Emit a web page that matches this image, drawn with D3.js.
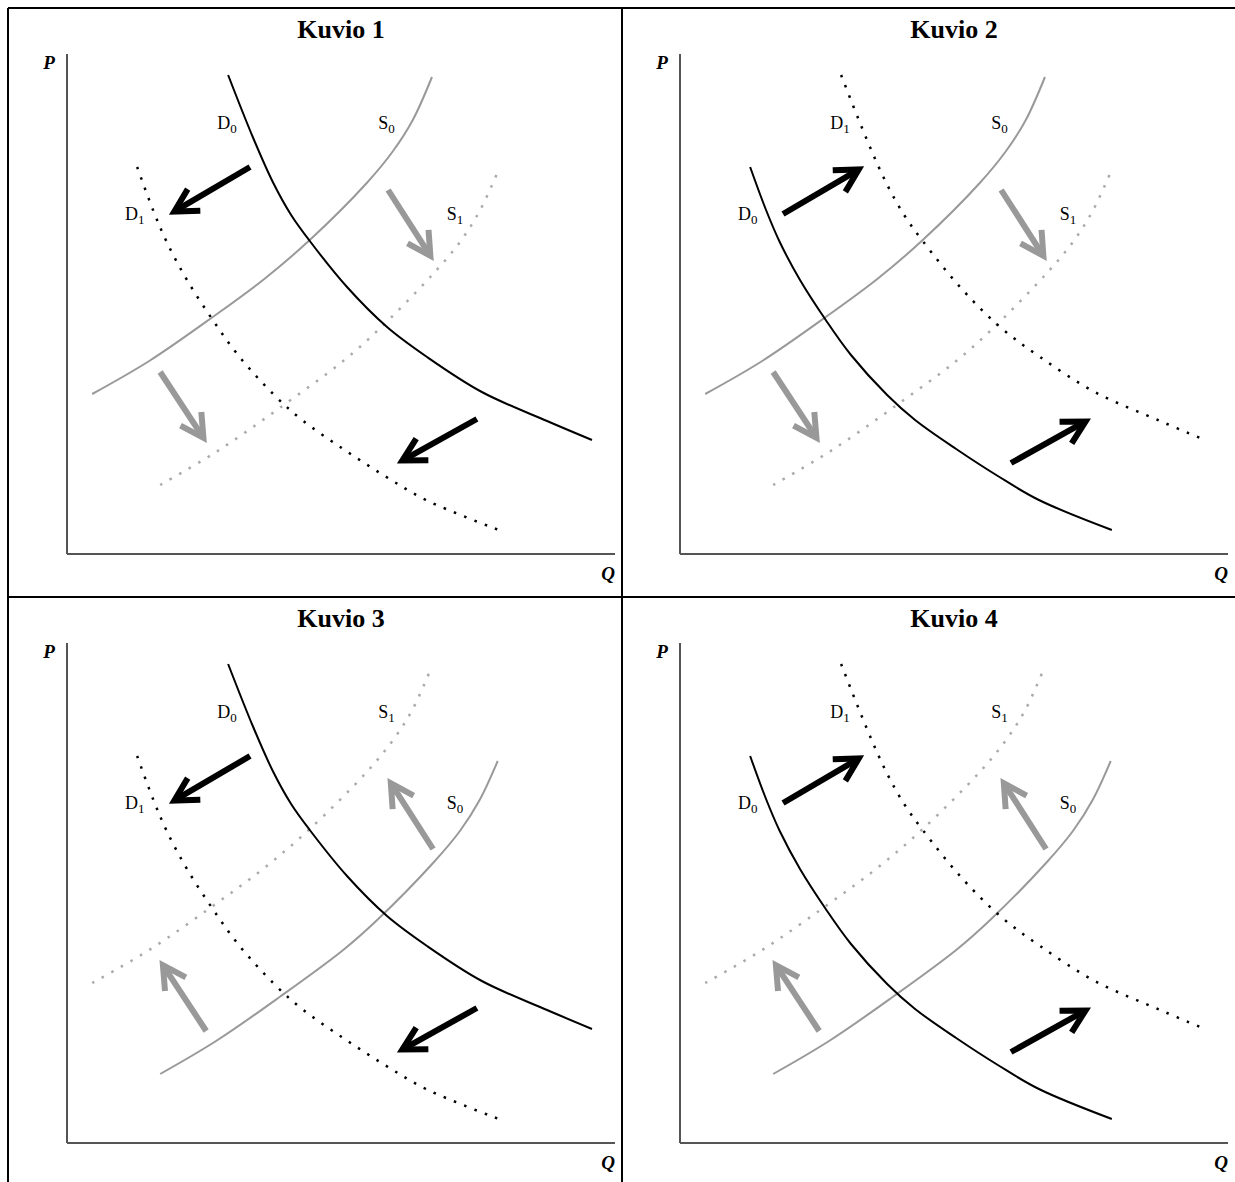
<!DOCTYPE html>
<html>
<head>
<meta charset="utf-8">
<script src="https://d3js.org/d3.v7.min.js"></script>
<style>
body { margin: 0; background: #fff; }
text { font-family: "Liberation Serif", "Times New Roman", serif; }
</style>
</head>
<body>
<script>
//curve points, as [Q, P] on a 0-100 scale
var demandHigh = [[29.4,95.8],[33.9,83.4],[37.6,74.3],[40.9,67.8],[44.3,62.6],[51.1,53.4],[58.4,45.4],[65.7,39.4],[75.7,32.4],[87.6,26.6],[95.8,22.8]];
var demandLow = [[12.8,77.4],[15.7,68.8],[18.2,62.4],[21.9,54.8],[26.6,46.8],[31.2,39.8],[37.8,31.8],[42.9,26.8],[50.4,21.0],[58.0,15.6],[65.5,10.8],[78.8,4.8]];
var supplyHigh = [[4.6,32.0],[15.0,38.6],[26.6,47.4],[36.0,55.0],[44.3,62.8],[54.7,74.2],[59.5,80.6],[63.1,86.8],[66.6,95.4]];
var supplyLow = [[17.0,13.8],[27.2,20.4],[38.8,29.2],[50.4,38.6],[56.6,44.6],[66.8,56.0],[71.7,62.4],[75.3,68.6],[78.6,76.4]];

//arrows as [tail, tip], drawn for a shift from the high curve to the low one
var demandArrows = [[[33.4,77.4],[18.8,68.0]], [[74.8,27.0],[60.4,18.2]]];
var supplyArrows = [[[58.6,72.8],[66.8,58.8]], [[17.0,36.4],[25.4,22.4]]];

//figure titles and which curve is the starting one (subscript 0)
var titles = ["Kuvio 1", "Kuvio 2", "Kuvio 3", "Kuvio 4"];
var demandStart = ["high", "low", "high", "low"];
var supplyStart = ["high", "high", "low", "low"];

window.onload = drawFigures();

function drawFigures(){

    var width = 1235,
        height = 1182;

    var svg = d3.select("body")
        .append("svg")
        .attr("width", width)
        .attr("height", height);

    //table borders round the four cells
    var borders = [[8,8,1235,8],[8,597,1235,597],[8,8,8,1182],[622,8,622,1182]];
    svg.selectAll(".border")
        .data(borders)
        .enter()
        .append("line")
        .attr("class", "border")
        .attr("x1", function(d){ return d[0]; })
        .attr("y1", function(d){ return d[1]; })
        .attr("x2", function(d){ return d[2]; })
        .attr("y2", function(d){ return d[3]; })
        .attr("stroke", "#000")
        .attr("stroke-width", 2);

    //same scales in every cell, cells are shifted with a transform
    var x = d3.scaleLinear().domain([0, 100]).range([67, 615]);
    var y = d3.scaleLinear().domain([0, 100]).range([554, 54]);

    var line = d3.line()
        .x(function(d){ return x(d[0]); })
        .y(function(d){ return y(d[1]); })
        .curve(d3.curveCatmullRom.alpha(0.5));

    var offsets = [[0,0],[613,0],[0,589],[613,589]];

    titles.forEach(function(title, i){
        var g = svg.append("g")
            .attr("transform", "translate(" + offsets[i][0] + "," + offsets[i][1] + ")");

        //title
        g.append("text")
            .attr("x", (x(0) + x(100)) / 2)
            .attr("y", 38)
            .attr("text-anchor", "middle")
            .attr("font-size", 26)
            .attr("font-weight", "bold")
            .text(title);

        //axes
        g.append("line")
            .attr("x1", x(0)).attr("y1", y(100))
            .attr("x2", x(0)).attr("y2", y(0))
            .attr("stroke", "#555").attr("stroke-width", 2);
        g.append("line")
            .attr("x1", x(0)).attr("y1", y(0))
            .attr("x2", x(100)).attr("y2", y(0))
            .attr("stroke", "#555").attr("stroke-width", 2);

        g.append("text")
            .attr("x", 49).attr("y", 69)
            .attr("text-anchor", "middle")
            .attr("font-size", 19)
            .attr("font-weight", "bold")
            .attr("font-style", "italic")
            .text("P");
        g.append("text")
            .attr("x", 608).attr("y", 580)
            .attr("text-anchor", "middle")
            .attr("font-size", 19)
            .attr("font-weight", "bold")
            .attr("font-style", "italic")
            .text("Q");

        var dHighIdx = demandStart[i] == "high" ? 0 : 1;
        var sHighIdx = supplyStart[i] == "high" ? 0 : 1;

        //supply curves (gray), solid for S0 and dotted for S1
        drawCurve(g, supplyHigh, "#999", sHighIdx == 0);
        drawCurve(g, supplyLow, "#999", sHighIdx == 1);
        //demand curves (black)
        drawCurve(g, demandHigh, "#000", dHighIdx == 0);
        drawCurve(g, demandLow, "#000", dHighIdx == 1);

        //curve labels
        label(g, "D", dHighIdx, 27.4, 85);
        label(g, "D", 1 - dHighIdx, 10.6, 66.8);
        label(g, "S", sHighIdx, 56.8, 85);
        label(g, "S", 1 - sHighIdx, 69.3, 66.8);

        //shift arrows, reversed when the start curve is the low one
        supplyArrows.forEach(function(a){
            if (sHighIdx == 0) arrow(g, a[0], a[1], "#999");
            else arrow(g, a[1], a[0], "#999");
        });
        demandArrows.forEach(function(a){
            if (dHighIdx == 0) arrow(g, a[0], a[1], "#000");
            else arrow(g, a[1], a[0], "#000");
        });
    });

    function drawCurve(g, pts, color, solid){
        var p = g.append("path")
            .datum(pts)
            .attr("d", line)
            .attr("fill", "none")
            .attr("stroke", color);
        if (solid){
            p.attr("stroke-width", 2);
        } else {
            p.attr("stroke-width", 2.5)
                .attr("stroke-dasharray", "2.5 8.5")
                .attr("stroke", color == "#000" ? "#000" : "#aaa");
        }
    }

    function label(g, letter, sub, q, pr){
        var t = g.append("text")
            .attr("x", x(q))
            .attr("y", y(pr))
            .attr("font-size", 18);
        t.append("tspan").text(letter);
        t.append("tspan")
            .attr("font-size", 13)
            .attr("dy", 4)
            .text(sub);
    }

    function arrow(g, tail, tip, color){
        var x1 = x(tail[0]), y1 = y(tail[1]),
            x2 = x(tip[0]), y2 = y(tip[1]);
        var ang = Math.atan2(y1 - y2, x1 - x2);
        //pull the vertex back so the mitred point ends at the tip
        var vx = x2 + 5 * Math.cos(ang),
            vy = y2 + 5 * Math.sin(ang);
        var len = 26, spread = 0.5;
        var b1 = [vx + len * Math.cos(ang + spread), vy + len * Math.sin(ang + spread)];
        var b2 = [vx + len * Math.cos(ang - spread), vy + len * Math.sin(ang - spread)];

        g.append("line")
            .attr("x1", x1).attr("y1", y1)
            .attr("x2", vx + 3 * Math.cos(ang)).attr("y2", vy + 3 * Math.sin(ang))
            .attr("stroke", color)
            .attr("stroke-width", 6);
        g.append("path")
            .attr("d", "M" + b1 + "L" + vx + "," + vy + "L" + b2)
            .attr("fill", "none")
            .attr("stroke", color)
            .attr("stroke-width", 6)
            .attr("stroke-linejoin", "miter")
            .attr("stroke-miterlimit", 10);
    }
};
</script>
</body>
</html>
